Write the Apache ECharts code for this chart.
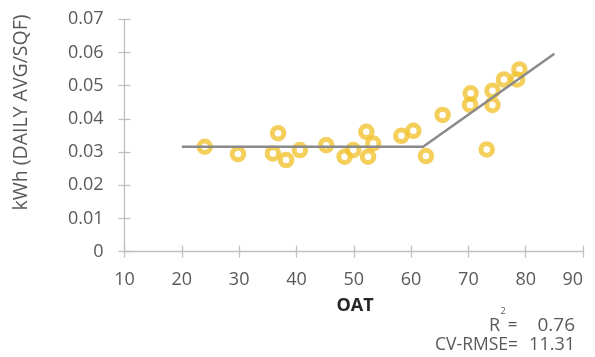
<!DOCTYPE html>
<html>
<head>
<meta charset="utf-8">
<script src="https://cdn.jsdelivr.net/npm/echarts@6/dist/echarts.min.js"></script>
<style>
html,body{margin:0;padding:0;background:#fff;}
#chart{width:595px;height:357px;}
</style>
</head>
<body>
<div id="chart"></div>
<script>
// Observed data: OAT vs kWh (daily avg / sqf)
var oat = [24.0, 29.8, 36.8, 35.9, 38.2, 40.6, 45.2, 48.4, 49.9, 52.2, 52.5, 53.4, 58.3, 60.4, 62.6, 65.5, 70.4, 70.3, 73.2, 74.2, 74.2, 76.2, 78.5, 78.9];
var kwh = [0.0316, 0.0294, 0.0357, 0.0296, 0.0276, 0.0306, 0.0321, 0.0286, 0.0306, 0.0361, 0.0286, 0.0326, 0.0349, 0.0364, 0.0288, 0.0412, 0.0477, 0.0442, 0.0308, 0.0485, 0.0442, 0.0519, 0.0519, 0.0549];
// Change-point model line
var fitX = [20, 62.1, 85];
var fitY = [0.0316, 0.0316, 0.0596];
// Tick labels / texts
var xTicks = [10, 20, 30, 40, 50, 60, 70, 80, 90];
var yTicks = [0, 0.01, 0.02, 0.03, 0.04, 0.05, 0.06, 0.07];
var xTitle = 'OAT';
var yTitle = 'kWh (DAILY AVG/SQF)';
var r2Value = '0.76';
var cvValue = '11.31';

var FONT = '"Open Sans", sans-serif';
var LABEL = '#595959';
var AXIS = '#bfbfbf';

var scatterData = oat.map(function (x, i) { return [x, kwh[i]]; });
var fitData = fitX.map(function (x, i) { return [x, fitY[i]]; });

var chart = echarts.init(document.getElementById('chart'), null, {renderer: 'canvas'});
var xMin = xTicks[0], xMax = xTicks[xTicks.length - 1];
var yMin = yTicks[0], yMax = yTicks[yTicks.length - 1];

chart.setOption({
  animation: false,
  backgroundColor: '#fff',
  grid: {left: 124.5, right: 12, top: 19.3, bottom: 105.3, containLabel: false},
  xAxis: [{
    type: 'value', min: xMin, max: xMax, interval: 10, position: 'bottom',
    axisLine: {show: true, lineStyle: {color: AXIS, width: 1.3}},
    axisTick: {show: true, inside: false, length: 6, lineStyle: {color: AXIS, width: 1.3}},
    splitLine: {show: false},
    axisLabel: {color: LABEL, fontFamily: FONT, fontSize: 18, margin: 19, alignMaxLabel: 'right'}
  }, {
    type: 'value', min: xMin, max: xMax, interval: 10, position: 'bottom',
    axisLine: {show: false},
    axisTick: {show: true, inside: true, length: 6, lineStyle: {color: AXIS, width: 1.3}},
    splitLine: {show: false}, axisLabel: {show: false}
  }],
  yAxis: [{
    type: 'value', min: yMin, max: yMax, interval: 0.01, position: 'left',
    axisLine: {show: true, lineStyle: {color: AXIS, width: 1.3}},
    axisTick: {show: true, inside: false, length: 6, lineStyle: {color: AXIS, width: 1.3}},
    splitLine: {show: false},
    axisLabel: {color: LABEL, fontFamily: FONT, fontSize: 18, margin: 21,
      formatter: function (v) { return v === 0 ? '0' : v.toFixed(2); }}
  }, {
    type: 'value', min: yMin, max: yMax, interval: 0.01, position: 'left',
    axisLine: {show: false},
    axisTick: {show: true, inside: true, length: 6, lineStyle: {color: AXIS, width: 1.3}},
    splitLine: {show: false}, axisLabel: {show: false}
  }],
  series: [{
    type: 'scatter', data: scatterData, xAxisIndex: 0, yAxisIndex: 0,
    symbol: 'circle', symbolSize: 11.5, z: 2,
    itemStyle: {color: 'rgba(255,255,255,0)', borderColor: '#f3c332', borderWidth: 5}
  }, {
    type: 'line', data: fitData, xAxisIndex: 0, yAxisIndex: 0,
    showSymbol: false, symbol: 'none', z: 3,
    lineStyle: {color: '#8a8a8a', width: 2.5}
  }],
  graphic: [
    {type: 'text', x: 21.5, y: 112.5, rotation: Math.PI / 2,
      style: {text: yTitle, fill: LABEL, font: '19.5px ' + FONT, textAlign: 'center', textVerticalAlign: 'middle'}},
    {type: 'text', x: 355, y: 306,
      style: {text: xTitle, fill: '#262626', font: 'bold 18px ' + FONT, textAlign: 'center', textVerticalAlign: 'middle'}},
    {type: 'text', x: 500, y: 326,
      style: {text: 'R', fill: LABEL, font: '18px ' + FONT, textAlign: 'right', textVerticalAlign: 'middle'}},
    {type: 'text', x: 503, y: 311,
      style: {text: '2', fill: LABEL, font: '9px ' + FONT, textAlign: 'center', textVerticalAlign: 'middle'}},
    {type: 'text', x: 512.5, y: 325,
      style: {text: '=', fill: LABEL, font: '17px ' + FONT, textAlign: 'center', textVerticalAlign: 'middle'}},
    {type: 'text', x: 575, y: 326,
      style: {text: r2Value, fill: LABEL, font: '19px ' + FONT, textAlign: 'right', textVerticalAlign: 'middle'}},
    {type: 'text', x: 518, y: 345,
      style: {text: 'CV-RMSE=', fill: LABEL, font: '17.5px ' + FONT, textAlign: 'right', textVerticalAlign: 'middle'}},
    {type: 'text', x: 575, y: 345,
      style: {text: cvValue, fill: LABEL, font: '18px ' + FONT, textAlign: 'right', textVerticalAlign: 'middle'}}
  ]
});
</script>
</body>
</html>
